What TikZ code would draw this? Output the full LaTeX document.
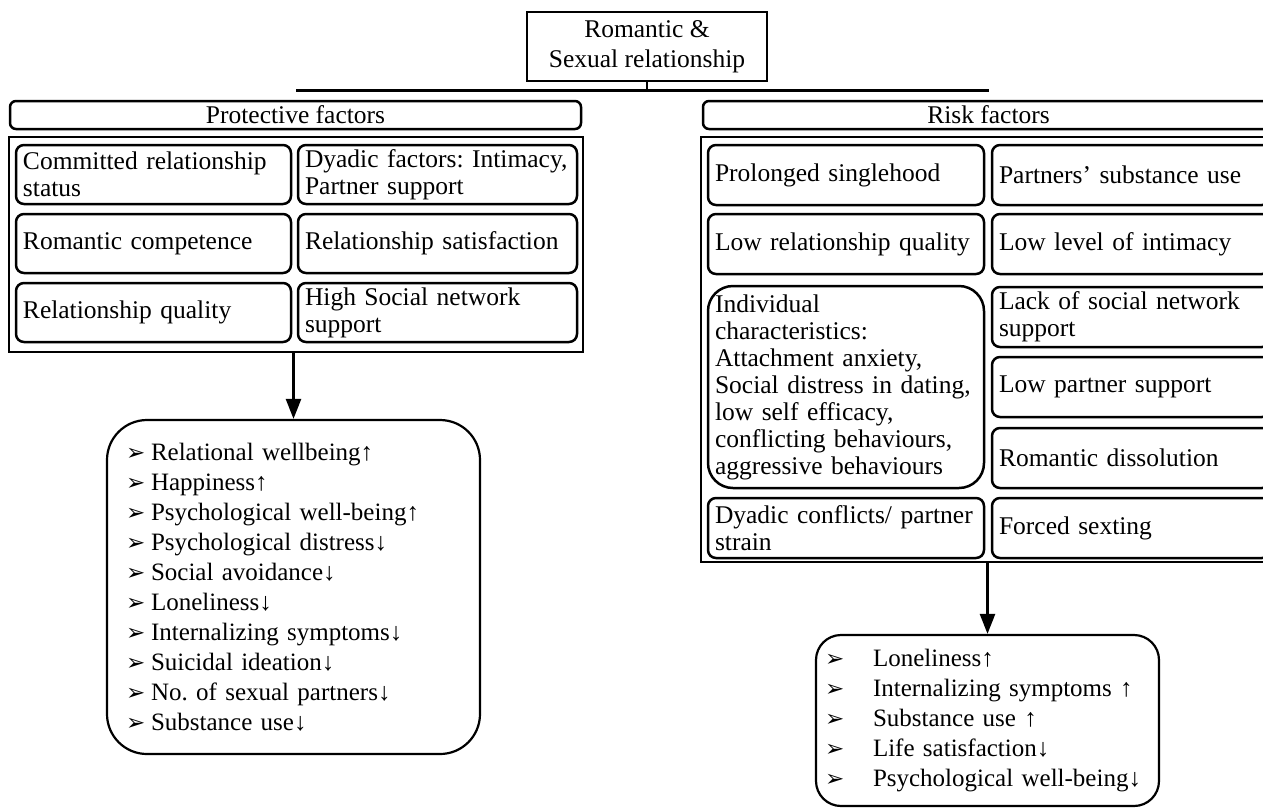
\documentclass[tikz,border=0pt]{standalone}
\usepackage{fontspec}
\setmainfont{Liberation Serif}
\newfontfamily\dvfont{DejaVu Sans}
\usetikzlibrary{arrows.meta}
\frenchspacing
\newcommand\bl{\makebox[25pt][l]{\dvfont\fontsize{23}{23}\selectfont ➢}}
\newcommand\br{\makebox[48pt][l]{\dvfont\fontsize{23}{23}\selectfont ➢}}
\begin{document}
\begin{tikzpicture}[x=1pt,y=-1pt,
  box/.style={draw, line width=2.5pt, inner sep=0pt},
  inbox/.style={draw, line width=2.5pt, rounded corners=8pt, inner xsep=7pt, inner ysep=0pt, align=left, font=\fontsize{25.5}{27}\selectfont\frenchspacing},
  hdr/.style={draw, line width=2.5pt, rounded corners=6pt, inner sep=0pt, minimum height=28pt, font=\fontsize{25.5}{27}\selectfont},
  outc/.style={draw, line width=2.2pt, align=left, inner ysep=0pt, font=\fontsize{25}{30}\selectfont\frenchspacing},
  conn/.style={line width=2.5pt},
  arr/.style={line width=2.5pt, -{Triangle[length=20pt,width=15pt]}}]
\useasboundingbox (0,0) rectangle (1263,807);
\clip (0,0) rectangle (1263,807);
% top
\node[box, minimum width=240pt, minimum height=69pt, align=center, font=\fontsize{25.5}{30}\selectfont] (top) at (647,46.5) {Romantic \&\\Sexual relationship};
% protective
\node[hdr, minimum width=571pt] (ph) at (295.5,115) {Protective factors};
\node[box, minimum width=574pt, minimum height=215pt] (pout) at (296,244.5) {};
\node[inbox, minimum width=275pt, text width=261pt, minimum height=59pt] (p1) at (153.5,174.5) {Committed relationship\\status};
\node[inbox, minimum width=279pt, text width=265pt, minimum height=59pt] (p2) at (437.5,174.5) {Dyadic factors: Intimacy,\\Partner support};
\node[inbox, minimum width=275pt, text width=261pt, minimum height=59pt] (p3) at (153.5,243.5) {Romantic competence};
\node[inbox, minimum width=279pt, text width=265pt, minimum height=59pt] (p4) at (437.5,243.5) {Relationship satisfaction};
\node[inbox, minimum width=275pt, text width=261pt, minimum height=59pt] (p5) at (153.5,312.5) {Relationship quality};
\node[inbox, minimum width=279pt, text width=265pt, minimum height=59pt] (p6) at (437.5,312.5) {High Social network\\support};
% risk
\node[hdr, minimum width=571pt] (rh) at (988.5,115) {Risk factors};
\node[box, minimum width=576pt, minimum height=425pt] (rout) at (989,349.5) {};
\node[inbox, minimum width=276pt, text width=262pt, minimum height=60pt] (rl1) at (846,175) {Prolonged singlehood};
\node[inbox, minimum width=276pt, text width=262pt, minimum height=60pt] (rl2) at (846,244) {Low relationship quality};
\node[inbox, rounded corners=25pt, minimum width=276pt, text width=262pt, minimum height=202pt] (rl3) at (846,387) {Individual\\characteristics:\\Attachment anxiety,\\Social distress in dating,\\low self efficacy,\\conflicting behaviours,\\aggressive behaviours};
\node[inbox, minimum width=276pt, text width=262pt, minimum height=60pt] (rl4) at (846,528) {Dyadic conflicts/ partner\\strain};
\node[inbox, minimum width=278pt, text width=264pt, minimum height=60pt] (rr1) at (1131,175) {Partners’ substance use};
\node[inbox, minimum width=278pt, text width=264pt, minimum height=60pt] (rr2) at (1131,244) {Low level of intimacy};
\node[inbox, minimum width=278pt, text width=264pt, minimum height=60pt] (rr3) at (1131,317) {Lack of social network\\support};
\node[inbox, minimum width=278pt, text width=264pt, minimum height=60pt] (rr4) at (1131,387) {Low partner support};
\node[inbox, minimum width=278pt, text width=264pt, minimum height=60pt] (rr5) at (1131,458) {Romantic dissolution};
\node[inbox, minimum width=278pt, text width=264pt, minimum height=60pt] (rr6) at (1131,528) {Forced sexting};
% outcomes
\node[outc, rounded corners=40pt, minimum width=373pt, minimum height=334pt, inner xsep=19pt, text width=335pt] (po) at (293.5,587) {\bl Relational wellbeing↑\\\bl Happiness↑\\\bl Psychological well-being↑\\\bl Psychological distress↓\\\bl Social avoidance↓\\\bl Loneliness↓\\\bl Internalizing symptoms↓\\\bl Suicidal ideation↓\\\bl No. of sexual partners↓\\\bl Substance use↓};
\node[outc, rounded corners=25pt, minimum width=343pt, minimum height=171pt, inner xsep=9pt, text width=325pt] (ro) at (987.5,720.5) {\br Loneliness↑\\\br Internalizing symptoms ↑\\\br Substance use ↑\\\br Life satisfaction↓\\\br Psychological well-being↓};
% connectors
\coordinate (hL) at (296,90.5);
\coordinate (hR) at (989,90.5);
\draw[conn] (hL) -- (hR);
\draw[conn] (top.south) -- (top.south |- hL);
\draw[arr] (pout.south -| po.north) -- (po.north);
\draw[arr] (rout.south -| ro.north) -- (ro.north);
\end{tikzpicture}
\end{document}
